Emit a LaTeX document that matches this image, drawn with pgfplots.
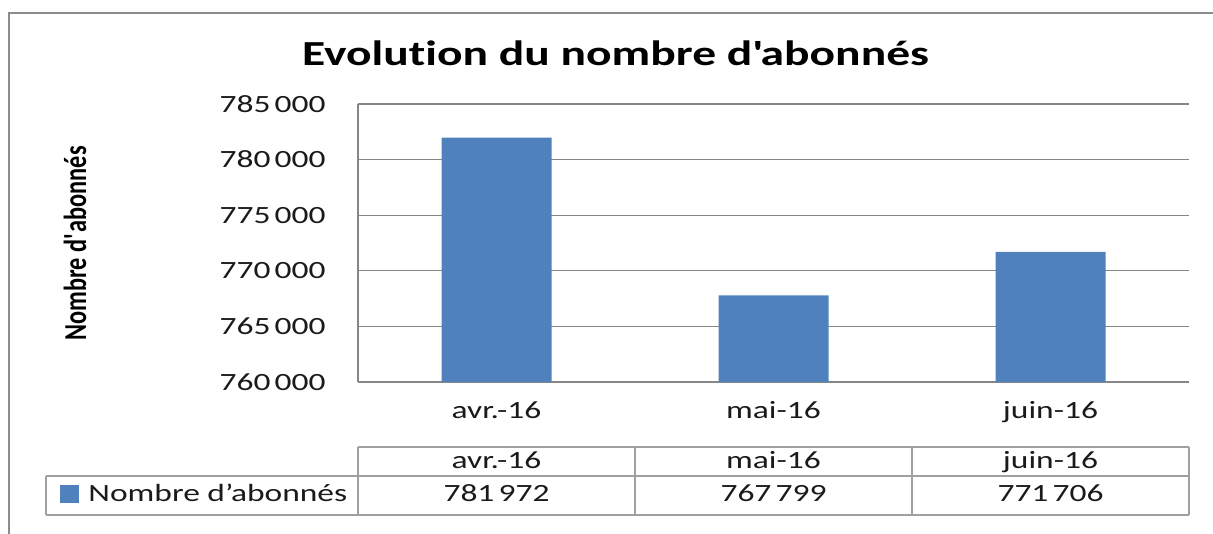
\documentclass[border=0pt]{standalone}
\usepackage{fontspec}
\setmainfont[FakeStretch=1.35, Ligatures={TeX,NoCommon}]{Carlito}
\newfontfamily\ylabfont[FakeStretch=0.76, Ligatures={TeX,NoCommon}]{Carlito}
\usepackage{pgfplots}
\pgfplotsset{compat=1.18}
\definecolor{barblue}{HTML}{4F81BD}
\definecolor{gridgray}{HTML}{868686}
\definecolor{framegray}{HTML}{8C8C8C}
\definecolor{tablegray}{HTML}{A0A0A0}
\definecolor{txt}{HTML}{1A1A1A}
\begin{document}
\begin{tikzpicture}[x=1pt,y=1pt]
\useasboundingbox (0,0) rectangle (606.5,267);
\draw[framegray, line width=1pt] (4.5,0) -- (4.5,260.5) -- (606.5,260.5);
\node[font=\bfseries\fontsize{17.6}{20}\selectfont, text=black] at (307.75,240.5) {Evolution du nombre d\textquotesingle abonnés};
\node[font=\ylabfont\bfseries\fontsize{16}{18}\selectfont, text=black, rotate=90] at (37.5,145.25) {Nombre d\textquotesingle abonnés};
\begin{axis}[
  at={(179pt,76pt)}, anchor=south west,
  scale only axis, width=415.5pt, height=139pt,
  xmin=-0.5, xmax=2.5, ymin=760000, ymax=785000,
  ytick={760000,765000,770000,775000,780000,785000},
  scaled y ticks=false,
  xtick={0,1,2}, xticklabels={avr.-16, mai-16, juin-16},
  ybar, bar width=55pt,
  axis x line*=bottom, axis y line*=left,
  axis line style={gridgray, line width=0.6pt, -},
  ymajorgrids, grid style={gridgray, line width=0.6pt},
  major tick length=0pt,
  tick label style={font=\fontsize{12.4}{14}\selectfont, text=txt},
  /pgf/number format/fixed, /pgf/number format/precision=0,
  /pgf/number format/1000 sep={\,}, /pgf/number format/assume math mode=true,
  yticklabel style={anchor=east, inner sep=0pt, xshift=-16pt},
  xticklabel style={anchor=base, inner sep=0pt, yshift=-18.25pt},
]
\addplot[fill=barblue, draw=none] coordinates {(0,781972) (1,767799) (2,771706)};
\end{axis}
\begin{scope}[tablegray, line width=0.6pt]
\draw (179,43.5) -- (594.5,43.5);
\draw (23,29) -- (594.5,29);
\draw (23,9.5) -- (594.5,9.5);
\draw (23,9.5) -- (23,29);
\foreach \x in {179,317.5,456,594.5} {\draw (\x,9.5) -- (\x,43.5);}
\end{scope}
\begin{scope}[every node/.style={font=\fontsize{12.4}{14}\selectfont, text=txt, anchor=base, inner sep=0pt}]
\node at (248.25,32.75) {avr.-16};
\node at (386.75,32.75) {mai-16};
\node at (525.25,32.75) {juin-16};
\node at (248.25,16.25) {781\,972};
\node at (386.75,16.25) {767\,799};
\node at (525.25,16.25) {771\,706};
\node[anchor=base west] at (44,16.25) {Nombre d’abonnés};
\end{scope}
\fill[barblue] (30,15.5) rectangle (39.5,24.5);
\end{tikzpicture}
\end{document}
